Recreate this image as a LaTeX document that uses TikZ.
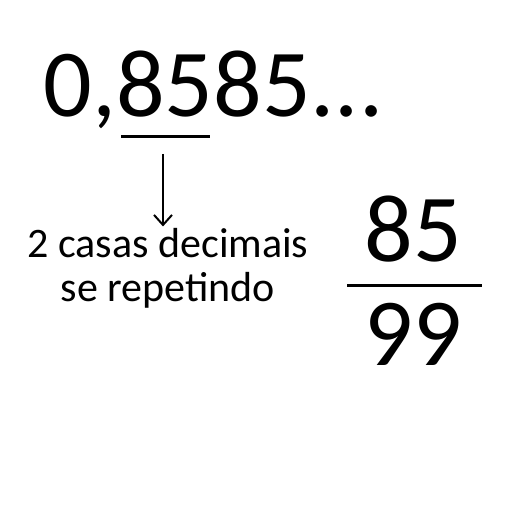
\documentclass[tikz,border=0pt]{standalone}
\usepackage{fontspec}
\setmainfont{Carlito}
\usetikzlibrary{arrows.meta,positioning}
\tikzset{numtext/.style={inner sep=0pt, font=\fontsize{48}{58}\selectfont},
  smalltext/.style={inner sep=0pt, align=center, font=\fontsize{21}{21.5}\selectfont}}

\begin{document}
\begin{tikzpicture}[x=0.5pt, y=-0.5pt,
      line cap=butt, >={Straight Barb[length=5pt,width=9pt]}]
      \useasboundingbox (0,0) rectangle (512,512);
      \node[numtext, anchor=base west] (dizima) at (43,117) {0,8585...};
      \coordinate (subA) at (121,137);
      \coordinate (subB) at (210,137);
      \coordinate (setaTopo) at (163,154);
      \node[smalltext, anchor=base] (rotulo) at (168,301) {2 casas decimais\\se repetindo};
      \draw [line width=1.5pt] (subA) -- (subB);
      \draw [->, line width=1pt] (setaTopo) -- ([yshift=1pt]rotulo.north -| setaTopo);
      % fracao
      \node[numtext, anchor=base] (numerador) at (413,262) {85};
      \node[numtext, anchor=base] (denominador) at (413,365) {99};
      \coordinate (barraA) at (347,286);
      \coordinate (barraB) at (482,286);
      \draw [line width=1.5pt] (barraA) -- (barraB);
    \end{tikzpicture}
\end{document}
